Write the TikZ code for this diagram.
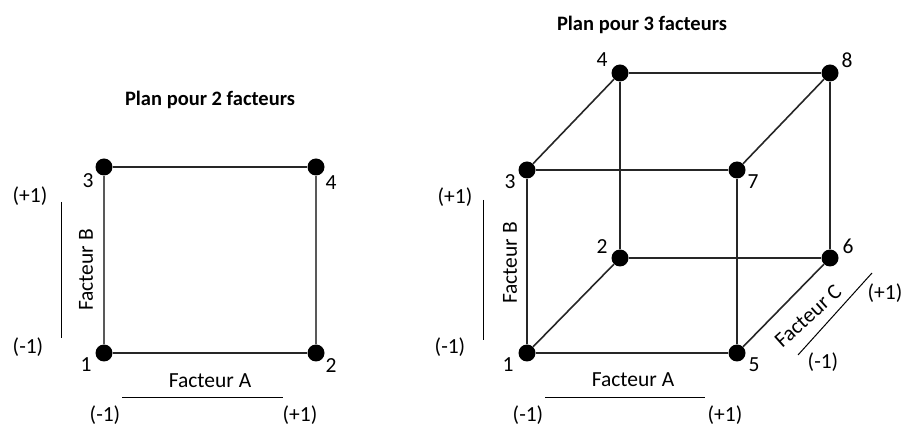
\documentclass[tikz,border=0pt]{standalone}
\usepackage{fontspec}
\setmainfont{Carlito}
\begin{document}
\begin{tikzpicture}[x=1pt,y=-1pt,
 dot/.style={circle,fill=black,inner sep=0pt,minimum size=17pt},
 edge/.style={draw=black!85,line width=1.6pt},
 lbl/.style={font=\fontsize{21.5}{24}\selectfont,inner sep=1pt},
 ttl/.style={font=\bfseries\fontsize{20.5}{23}\selectfont,inner sep=1pt},
 axisline/.style={draw=black,line width=1pt}]
\useasboundingbox[fill=white] (0,0) rectangle (903,427);
% ---------- 2 factors ----------
\node[ttl] (t2) at (210,100) {Plan pour 2 facteurs};
\node[dot] (L1) at (104,353) {};
\node[dot] (L2) at (316,353) {};
\node[dot] (L3) at (104,167) {};
\node[dot] (L4) at (316,167) {};
\draw[edge] (L1) -- (L2);
\draw[edge] (L3) -- (L4);
\draw[edge,draw=black!65] (L1) -- (L3);
\draw[edge,draw=black!65] (L2) -- (L4);
\node[lbl] (l1) at (86,365) {1};
\node[lbl] (l2) at (331,366) {2};
\node[lbl] (l3) at (88,181) {3};
\node[lbl] (l4) at (331,183) {4};
\node[lbl,rotate=90] (lfb) at (86,270) {Facteur B};
\node[lbl] (lfa) at (210,381) {Facteur A};
\coordinate (lbt) at (61,202);
\coordinate (lbb) at (61,338);
\draw[axisline] (lbt) -- (lbb);
\node[lbl] (lbp) at (30,196) {(+1)};
\node[lbl] (lbm) at (28,347) {(-1)};
\coordinate (lal) at (122,398);
\coordinate (lar) at (283,398);
\draw[axisline] (lal) -- (lar);
\node[lbl] (lam) at (105,415) {(-1)};
\node[lbl] (lap) at (300,415) {(+1)};
% ---------- 3 factors ----------
\node[ttl] (t3) at (642,25) {Plan pour 3 facteurs};
\node[dot] (R1) at (527,353) {};
\node[dot] (R2) at (620,258) {};
\node[dot] (R3) at (527,170) {};
\node[dot] (R4) at (620,73) {};
\node[dot] (R5) at (737,353) {};
\node[dot] (R6) at (830,258) {};
\node[dot] (R7) at (737,170) {};
\node[dot] (R8) at (830,73) {};
\draw[edge] (R1) -- (R3);
\draw[edge] (R1) -- (R5);
\draw[edge] (R1) -- (R2);
\draw[edge] (R3) -- (R7);
\draw[edge] (R3) -- (R4);
\draw[edge] (R5) -- (R7);
\draw[edge] (R5) -- (R6);
\draw[edge] (R2) -- (R4);
\draw[edge] (R2) -- (R6);
\draw[edge] (R4) -- (R8);
\draw[edge] (R6) -- (R8);
\draw[edge] (R7) -- (R8);
\node[lbl] (r1) at (508,365) {1};
\node[lbl] (r2) at (602,247) {2};
\node[lbl] (r3) at (510,182) {3};
\node[lbl] (r4) at (602,60) {4};
\node[lbl] (r5) at (754,365) {5};
\node[lbl] (r6) at (848,246) {6};
\node[lbl] (r7) at (753,182) {7};
\node[lbl] (r8) at (847,60) {8};
\node[lbl,rotate=90] (rfb) at (510,263) {Facteur B};
\node[lbl] (rfa) at (633,380) {Facteur A};
\node[lbl,rotate=42] (rfc) at (808,316) {Facteur C};
\coordinate (rbt) at (483,200);
\coordinate (rbb) at (483,340);
\draw[axisline] (rbt) -- (rbb);
\node[lbl] (rbp) at (455,197) {(+1)};
\node[lbl] (rbm) at (450,347) {(-1)};
\coordinate (ral) at (545,398);
\coordinate (rar) at (705,398);
\draw[axisline] (ral) -- (rar);
\node[lbl] (ram) at (528,415) {(-1)};
\node[lbl] (rap) at (725,415) {(+1)};
\coordinate (rcl) at (798,355);
\coordinate (rcu) at (872,273);
\draw[axisline] (rcl) -- (rcu);
\node[lbl] (rcp) at (885,293) {(+1)};
\node[lbl] (rcm) at (823,362) {(-1)};
\end{tikzpicture}
\end{document}
